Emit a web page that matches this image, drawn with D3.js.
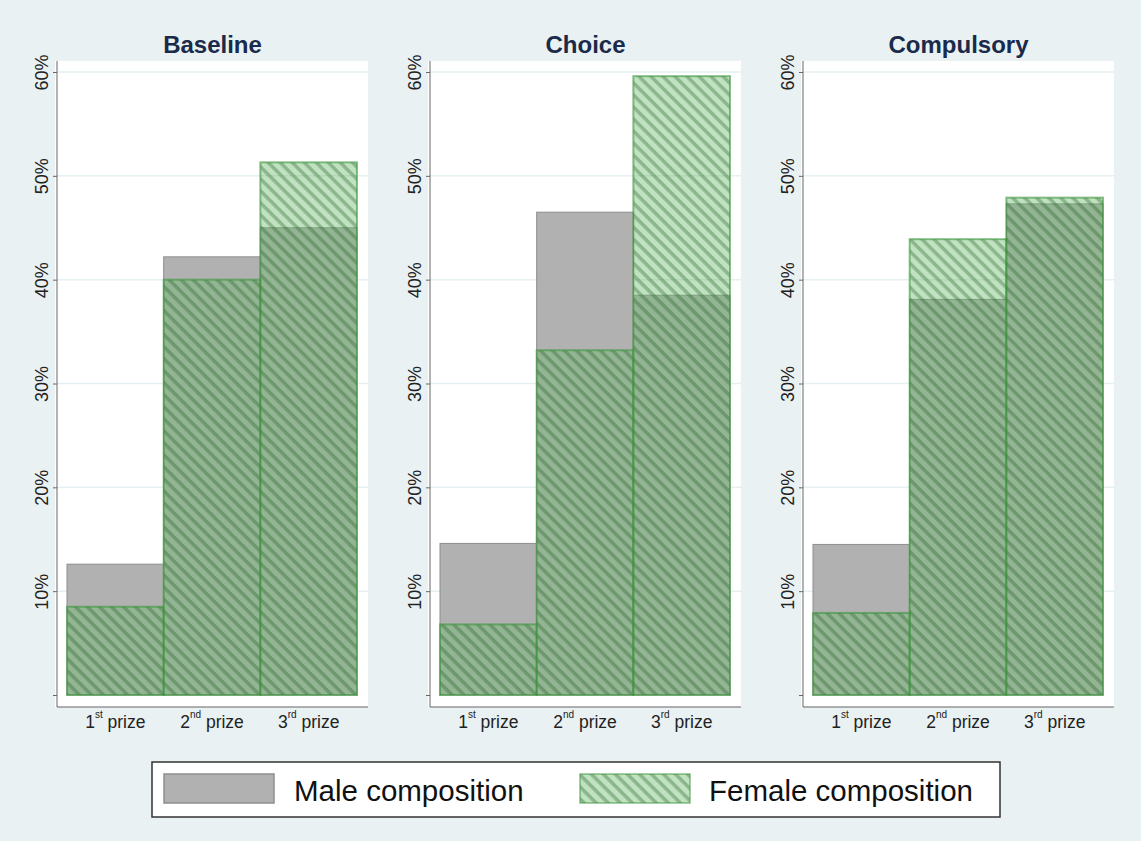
<!DOCTYPE html>
<html><head><meta charset="utf-8">
<script src="https://cdn.jsdelivr.net/npm/d3@7"></script>
<style>body{margin:0;background:#e9f1f3;}svg{display:block;}</style>
</head><body>
<svg id="chart" width="1141" height="841"></svg>
<script>
const panels = ["Baseline", "Choice", "Compulsory"];
const prizeNumbers = ["1", "2", "3"];
const prizeSuffixes = ["st", "nd", "rd"];
const maleValues = [[12.6, 42.2, 45.0], [14.6, 46.5, 38.5], [14.5, 38.1, 47.3]];
const femaleValues = [[8.5, 40.0, 51.3], [6.8, 33.2, 59.6], [7.9, 43.9, 47.9]];
const yTicks = [0, 10, 20, 30, 40, 50, 60];
const legendLabels = ["Male composition", "Female composition"];

const svg = d3.select("#chart");
svg.append("rect").attr("width", 1141).attr("height", 841).attr("fill", "#e9f1f3");

const defs = svg.append("defs");
const pat = defs.append("pattern").attr("id", "hatch").attr("patternUnits", "userSpaceOnUse")
  .attr("width", 8.5).attr("height", 8.5).attr("patternTransform", "rotate(45)");
pat.append("rect").attr("width", 8.5).attr("height", 8.5).attr("fill", "rgba(105,185,105,0.42)");
pat.append("rect").attr("width", 8.5).attr("height", 3.5).attr("fill", "rgba(30,90,30,0.33)");

const y = d3.scaleLinear().domain([0, 60]).range([695, 72]);
const font = "'Liberation Sans', Arial, sans-serif";

panels.forEach((name, i) => {
  const x0 = 57 + i * 373, x1 = x0 + 311;
  const g = svg.append("g");
  g.append("rect").attr("x", x0 - 2).attr("y", 61).attr("width", x1 - x0 + 2).attr("height", 646).attr("fill", "#fff");
  g.selectAll(".grid").data(yTicks.slice(1)).join("line")
    .attr("x1", x0).attr("x2", x1).attr("y1", d => y(d)).attr("y2", d => y(d))
    .attr("stroke", "#e6eff1").attr("stroke-width", 1.5);
  const x = d3.scaleBand().domain(prizeNumbers).range([x0 + 10, x0 + 300]).padding(0);
  g.selectAll(".male").data(maleValues[i]).join("rect")
    .attr("x", (d, j) => x(prizeNumbers[j])).attr("width", x.bandwidth())
    .attr("y", d => y(d)).attr("height", d => y(0) - y(d))
    .attr("fill", "#b1b1b1").attr("stroke", "#8e8e8e").attr("stroke-width", 1);
  g.selectAll(".female").data(femaleValues[i]).join("rect")
    .attr("x", (d, j) => x(prizeNumbers[j])).attr("width", x.bandwidth())
    .attr("y", d => y(d)).attr("height", d => y(0) - y(d))
    .attr("fill", "url(#hatch)").attr("stroke", "rgba(60,150,60,0.6)").attr("stroke-width", 2);
  const ya = g.append("g").attr("transform", `translate(${x0},0)`)
    .call(d3.axisLeft(y).tickValues(yTicks).tickSize(4).tickFormat(d => d === 0 ? "" : d + "%"));
  ya.select(".domain").attr("stroke", "#666").attr("d", `M0,61V707`);
  ya.selectAll(".tick line").attr("stroke", "#666");
  ya.selectAll(".tick text").attr("font-family", font).attr("font-size", 18).attr("fill", "#222")
    .attr("transform", "rotate(-90)").attr("x", 0).attr("y", -9).attr("dy", 0)
    .attr("text-anchor", "middle");
  g.append("line").attr("x1", x0).attr("x2", x1).attr("y1", 707).attr("y2", 707).attr("stroke", "#666").attr("stroke-width", 1.2);
  prizeNumbers.forEach((p, j) => {
    const t = g.append("text").attr("x", x(p) + x.bandwidth() / 2).attr("y", 728)
      .attr("text-anchor", "middle").attr("font-family", font).attr("font-size", 17.5).attr("fill", "#222");
    t.append("tspan").text(p);
    t.append("tspan").text(prizeSuffixes[j]).attr("font-size", 10).attr("dy", -10);
    t.append("tspan").text(" prize").attr("dy", 10);
  });
  g.append("text").attr("x", (x0 + x1) / 2).attr("y", 53).attr("text-anchor", "middle")
    .attr("font-family", font).attr("font-weight", "bold").attr("font-size", 24).attr("fill", "#1a2a4a").text(name);
});

const lg = svg.append("g");
lg.append("rect").attr("x", 152).attr("y", 762).attr("width", 848).attr("height", 55)
  .attr("fill", "#fff").attr("stroke", "#333").attr("stroke-width", 1.5);
lg.append("rect").attr("x", 164).attr("y", 774).attr("width", 110).attr("height", 29)
  .attr("fill", "#b1b1b1").attr("stroke", "#8e8e8e").attr("stroke-width", 1.5);
lg.append("rect").attr("x", 580).attr("y", 774).attr("width", 110).attr("height", 29)
  .attr("fill", "url(#hatch)").attr("stroke", "rgba(60,150,60,0.6)").attr("stroke-width", 1.5);
lg.append("text").attr("x", 294).attr("y", 801).attr("font-family", font).attr("font-size", 29.5).attr("fill", "#111").text(legendLabels[0]);
lg.append("text").attr("x", 709).attr("y", 801).attr("font-family", font).attr("font-size", 29.5).attr("fill", "#111").text(legendLabels[1]);
</script>
</body></html>
